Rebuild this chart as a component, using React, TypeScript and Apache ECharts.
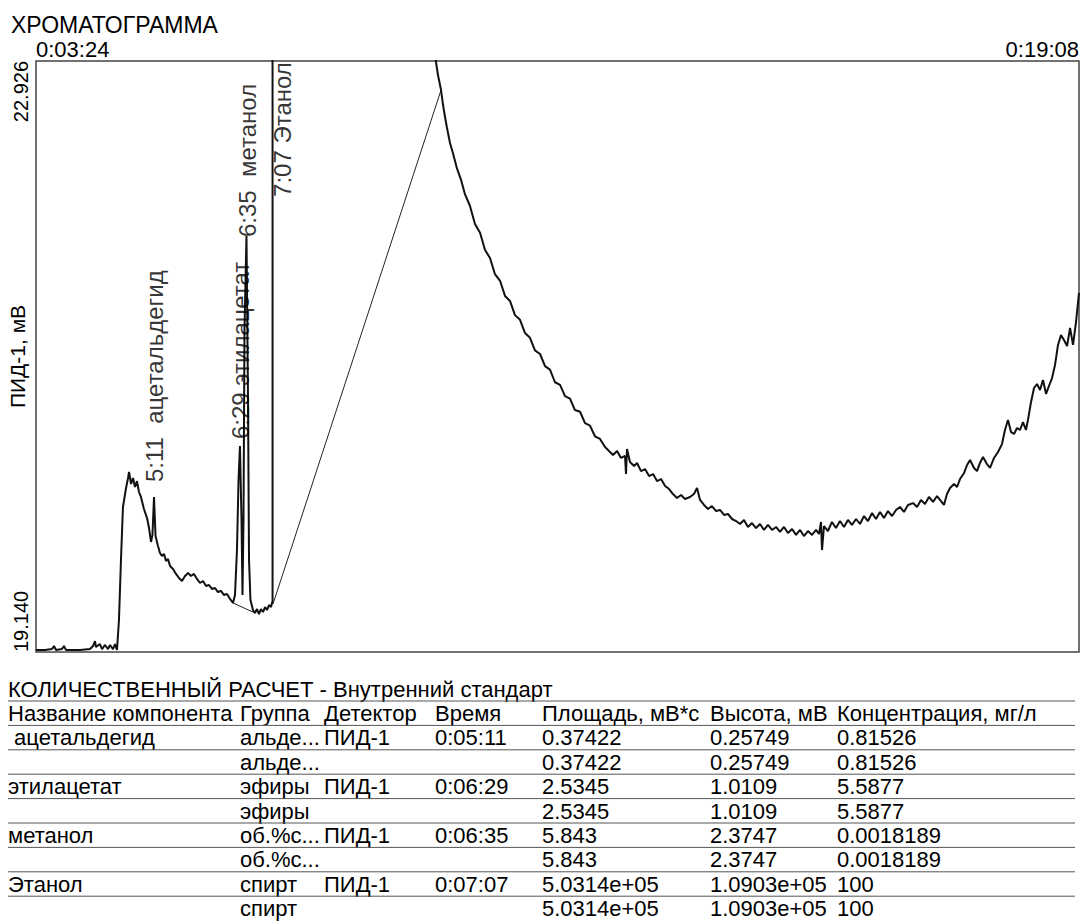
import React, { useEffect, useRef } from "react";
import * as echarts from "echarts";

const FONT = 'Arial, "Liberation Sans", Helvetica, sans-serif';

const chartTitle = "ХРОМАТОГРАММА";
const yAxisName = "ПИД-1, мВ";
const timeRange = [204, 1148]; // 0:03:24 .. 0:19:08, seconds
const signalRange = [19.14, 22.926]; // mV

// Chromatogram trace: retention time (s) and detector signal (mV)
const times = [
  204.0, 212.1, 218.5, 220.3, 222.1, 227.5, 229.3, 231.2, 243.8, 252.9, 255.6, 257.4, 258.3, 261.9, 263.7, 266.5,
  269.2, 271.0, 273.7, 275.5, 277.3, 279.1, 280.9, 282.7, 285.5, 287.3, 288.2, 290.0, 291.8, 293.6, 295.4, 297.2,
  299.0, 301.7, 304.5, 306.3, 308.1, 309.4, 310.8, 312.2, 314.4, 316.2, 318.0, 319.9, 321.7, 323.5, 325.3, 328.0,
  330.7, 333.4, 336.1, 338.9, 341.6, 344.3, 347.0, 349.7, 352.4, 355.1, 357.9, 360.6, 363.3, 366.0, 368.7, 371.4,
  374.2, 376.9, 379.6, 382.3, 384.1, 385.9, 387.3, 388.6, 390.0, 390.9, 391.8, 392.7, 394.5, 395.9, 396.8, 398.1,
  400.4, 402.2, 404.0, 405.8, 407.6, 409.5, 411.3, 413.1, 414.9, 416.7, 418.1, 427.0, 566.0, 567.8, 570.6, 572.4,
  574.2, 576.0, 578.7, 581.4, 585.0, 588.7, 592.3, 596.8, 601.3, 605.9, 610.4, 614.9, 619.4, 624.0, 628.5, 633.0,
  637.5, 642.1, 646.6, 651.1, 655.6, 660.2, 664.7, 669.2, 673.7, 678.3, 682.8, 687.3, 691.8, 696.4, 700.9, 705.4,
  709.9, 714.5, 719.0, 723.5, 726.2, 729.9, 733.5, 737.1, 738.0, 738.9, 741.6, 745.3, 748.0, 751.6, 755.2, 758.9,
  762.5, 766.1, 769.7, 773.4, 777.0, 780.5, 784.2, 787.8, 791.4, 795.9, 799.5, 802.3, 805.0, 808.6, 812.2, 815.8,
  819.5, 823.1, 826.7, 830.3, 834.0, 837.6, 841.2, 844.8, 848.4, 852.0, 855.7, 859.3, 862.9, 866.5, 870.2, 873.8,
  877.4, 881.0, 884.6, 888.3, 891.9, 895.5, 899.1, 902.7, 906.4, 910.0, 912.7, 914.5, 915.4, 917.2, 920.8, 924.4,
  928.0, 931.7, 935.3, 938.9, 942.5, 946.2, 949.8, 953.4, 957.0, 960.7, 964.3, 967.9, 971.5, 975.1, 978.8, 982.4,
  986.0, 989.6, 993.2, 997.8, 1001.4, 1005.0, 1008.6, 1012.2, 1015.9, 1019.5, 1023.1, 1025.8, 1028.5, 1031.3, 1034.9, 1037.6,
  1040.3, 1044.0, 1046.7, 1049.4, 1053.0, 1055.7, 1058.4, 1061.1, 1064.7, 1067.5, 1071.1, 1074.7, 1078.3, 1081.0, 1083.7, 1086.5,
  1089.2, 1091.9, 1094.6, 1097.3, 1100.0, 1101.8, 1104.6, 1107.3, 1110.0, 1112.7, 1115.4, 1118.2, 1120.8, 1123.6, 1126.3, 1129.0,
  1131.7, 1134.4, 1137.2, 1139.9, 1142.6, 1145.3, 1148.0,
];
const signal = [
  19.153, 19.153, 19.159, 19.178, 19.153, 19.159, 19.178, 19.153, 19.153, 19.159, 19.178, 19.21, 19.172, 19.191, 19.159, 19.185,
  19.159, 19.185, 19.159, 19.191, 19.153, 19.345, 19.729, 20.069, 20.191, 20.255, 20.293, 20.216, 20.255, 20.197, 20.235, 20.165,
  20.133, 20.056, 19.998, 19.934, 19.845, 19.89, 20.133, 19.883, 19.819, 19.774, 19.755, 19.768, 19.723, 19.736, 19.691, 19.672,
  19.64, 19.614, 19.595, 19.627, 19.646, 19.627, 19.64, 19.608, 19.582, 19.595, 19.563, 19.569, 19.544, 19.55, 19.524, 19.531,
  19.505, 19.512, 19.48, 19.454, 19.505, 19.793, 20.242, 20.46, 19.986, 19.505, 19.986, 21.203, 21.805, 20.754, 19.729, 19.473,
  19.409, 19.39, 19.415, 19.383, 19.415, 19.396, 19.428, 19.409, 19.441, 19.428, 19.467, 109049, 22.92, 22.836, 22.74, 22.644,
  22.567, 22.497, 22.401, 22.335, 22.238, 22.165, 22.071, 21.997, 21.882, 21.826, 21.715, 21.664, 21.56, 21.518, 21.421, 21.389,
  21.298, 21.268, 21.183, 21.153, 21.072, 21.049, 20.971, 20.949, 20.868, 20.851, 20.779, 20.763, 20.69, 20.679, 20.606, 20.59,
  20.522, 20.505, 20.453, 20.421, 20.402, 20.428, 20.383, 20.396, 20.28, 20.44, 20.357, 20.332, 20.351, 20.299, 20.312, 20.267,
  20.28, 20.235, 20.248, 20.203, 20.184, 20.152, 20.127, 20.146, 20.12, 20.133, 20.152, 20.191, 20.114, 20.082, 20.056, 20.075,
  20.043, 20.05, 20.018, 20.024, 19.992, 19.979, 19.96, 19.986, 19.941, 19.966, 19.934, 19.96, 19.922, 19.954, 19.922, 19.941,
  19.909, 19.941, 19.902, 19.928, 19.89, 19.922, 19.883, 19.915, 19.89, 19.922, 19.896, 19.973, 19.793, 19.947, 19.915, 19.973,
  19.934, 19.979, 19.941, 19.986, 19.954, 19.992, 19.96, 20.011, 19.979, 20.03, 19.992, 20.037, 19.998, 20.043, 20.011, 20.05,
  20.069, 20.037, 20.082, 20.094, 20.069, 20.114, 20.088, 20.133, 20.101, 20.139, 20.107, 20.082, 20.152, 20.191, 20.216, 20.197,
  20.248, 20.287, 20.338, 20.37, 20.319, 20.299, 20.351, 20.389, 20.344, 20.319, 20.383, 20.421, 20.472, 20.562, 20.626, 20.549,
  20.537, 20.575, 20.562, 20.613, 20.562, 20.626, 20.742, 20.831, 20.857, 20.818, 20.882, 20.793, 20.844, 20.895, 20.979, 21.107,
  21.171, 21.139, 21.1, 21.216, 21.107, 21.254, 21.44,
];

// Integration baselines drawn under peaks
const baselineEstersTimes = [382.3, 402.2];
const baselineEstersValues = [19.454, 19.39];
const baselineEthanolTimes = [418.5, 570.6];
const baselineEthanolValues = [19.447, 22.74];

// Peak annotations
const peakTimes = [311, 389, 395, 427];
const peakNames = ["5:11  ацетальдегид", "6:29 этилацетат", "6:35  метанол", "7:07 Этанол"];
const peakLabelLevels = [20.229, 20.504, 21.798, 22.055];

// Quantitative table
const tableTitle = "КОЛИЧЕСТВЕННЫЙ РАСЧЕТ - Внутренний стандарт";
const tableHeader = ["Название компонента", "Группа", "Детектор", "Время", "Площадь, мВ*с", "Высота, мВ", "Концентрация, мг/л"];
const tableRows = [
  [" ацетальдегид", "альде...", "ПИД-1", "0:05:11", "0.37422", "0.25749", "0.81526"],
  ["", "альде...", "", "", "0.37422", "0.25749", "0.81526"],
  ["этилацетат", "эфиры", "ПИД-1", "0:06:29", "2.5345", "1.0109", "5.5877"],
  ["", "эфиры", "", "", "2.5345", "1.0109", "5.5877"],
  ["метанол", "об.%с...", "ПИД-1", "0:06:35", "5.843", "2.3747", "0.0018189"],
  ["", "об.%с...", "", "", "5.843", "2.3747", "0.0018189"],
  ["Этанол", "спирт", "ПИД-1", "0:07:07", "5.0314e+05", "1.0903e+05", "100"],
  ["", "спирт", "", "", "5.0314e+05", "1.0903e+05", "100"],
];

const fmtTime = (s: number) => {
  const m = Math.floor(s / 60);
  const sec = Math.round(s - m * 60);
  return `0:${String(m).padStart(2, "0")}:${String(sec).padStart(2, "0")}`;
};

function buildTable(): any[] {
  const colX = [8, 240, 324, 435, 542, 710, 837];
  const lineX1 = 8;
  const lineX2 = 1075;
  const fs = 22;
  const rowStep = 24.4;
  const els: any[] = [];
  const txt = (x: number, y: number, t: string) => ({
    type: "text",
    x,
    y,
    style: { text: t, fontSize: fs, fontFamily: FONT, fill: "#000", align: "left", verticalAlign: "middle" },
  });
  const ln = (y: number) => ({
    type: "line",
    shape: { x1: lineX1, y1: y, x2: lineX2, y2: y },
    style: { stroke: "#555", lineWidth: 1 },
  });
  const titleY = 689;
  els.push(txt(8, titleY, tableTitle));
  els.push(ln(titleY + 12));
  const headerY = titleY + rowStep;
  tableHeader.forEach((h, i) => els.push(txt(colX[i], headerY, h)));
  els.push(ln(headerY + 12));
  tableRows.forEach((row, r) => {
    const y = headerY + rowStep * (r + 1);
    row.forEach((c, i) => {
      if (c) els.push(txt(colX[i], y, c));
    });
    if (r < tableRows.length - 1) els.push(ln(y + 12));
  });
  return els;
}

export default function App() {
  const ref = useRef<HTMLDivElement>(null);
  useEffect(() => {
    document.body.style.margin = "0";
    if (!ref.current) return;
    const chart = echarts.init(ref.current, undefined, { renderer: "svg" });
    const traceData = times.map((t, i) => [t, signal[i]]);
    const option: any = {
      animation: false,
      backgroundColor: "#ffffff",
      title: {
        text: chartTitle,
        left: 11,
        top: 13,
        padding: 0,
        textStyle: { fontSize: 23, fontWeight: "normal", color: "#000", fontFamily: FONT },
      },
      grid: {
        left: 36,
        top: 61,
        right: 1,
        bottom: 271,
        outerBoundsMode: "none",
        containLabel: false,
        show: true,
        borderColor: "#444",
        borderWidth: 1.5,
        backgroundColor: "transparent",
      },
      xAxis: {
        type: "value",
        position: "top",
        min: timeRange[0],
        max: timeRange[1],
        axisLine: { show: false },
        axisTick: { show: false },
        splitLine: { show: false },
        axisLabel: {
          customValues: [timeRange[0], timeRange[1]],
          formatter: (v: number) => fmtTime(v),
          margin: 1,
          fontSize: 22,
          color: "#000",
          fontFamily: FONT,
          alignMinLabel: "left",
          alignMaxLabel: "right",
        },
      },
      yAxis: {
        type: "value",
        min: signalRange[0],
        max: signalRange[1],
        name: yAxisName,
        nameLocation: "middle",
        nameRotate: 90,
        nameGap: 8,
        nameMoveOverlap: false,
        nameTextStyle: { fontSize: 21, color: "#000", fontFamily: FONT, verticalAlign: "bottom" },
        axisLine: { show: false },
        axisTick: { show: false },
        splitLine: { show: false },
        axisLabel: {
          customValues: [signalRange[0], signalRange[1]],
          rotate: 90,
          formatter: (v: number) => v.toFixed(3),
          margin: 5,
          fontSize: 20,
          color: "#000",
          fontFamily: FONT,
          alignMinLabel: "left",
          alignMaxLabel: "right",
        },
      },
      series: [
        {
          type: "line",
          data: traceData,
          showSymbol: false,
          symbol: "none",
          clip: true,
          lineStyle: { color: "#111", width: 2 },
          z: 3,
        },
        {
          type: "line",
          data: baselineEstersTimes.map((t, i) => [t, baselineEstersValues[i]]),
          symbol: "none",
          lineStyle: { color: "#222", width: 1 },
          z: 2,
        },
        {
          type: "line",
          data: baselineEthanolTimes.map((t, i) => [t, baselineEthanolValues[i]]),
          symbol: "none",
          lineStyle: { color: "#222", width: 1 },
          z: 2,
        },
        {
          type: "scatter",
          data: peakTimes.map((t, i) => [t, peakLabelLevels[i]]),
          symbolSize: 0,
          itemStyle: { color: "transparent" },
          label: {
            show: true,
            position: "inside",
            rotate: 90,
            align: "left",
            verticalAlign: "middle",
            fontSize: 24,
            color: "#000",
            fontFamily: FONT,
            formatter: (p: any) => peakNames[p.dataIndex],
          },
          z: 4,
        },
      ],
      graphic: buildTable(),
    };
    chart.setOption(option);
    return () => chart.dispose();
  }, []);
  return <div ref={ref} style={{ width: 1080, height: 923 }} />;
}
